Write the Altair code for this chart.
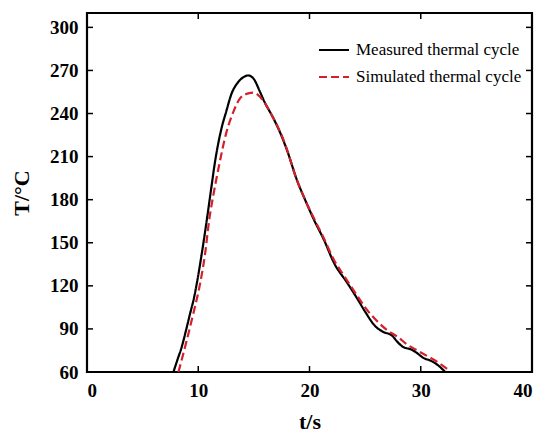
import altair as alt
import pandas as pd

meas_t = [7.77, 8.15, 8.52, 8.9, 9.27, 9.6, 9.87, 10.32, 10.77, 11.15, 11.5, 12.1, 12.5, 13.0, 13.5, 14.0,
          14.5, 15.0, 15.5, 15.9, 16.8, 17.4, 18.0, 18.9, 19.6, 20.4, 21.3, 22.2, 23.4, 24.3, 25.0,
          25.9, 26.6, 27.4, 27.9, 28.4, 29.2, 29.7, 30.2, 31.0, 31.5, 32.2]
meas_T = [60, 69, 77.6, 89, 100.8, 111, 121.7, 142.6, 166, 187, 206, 230, 241, 254, 261, 265,
          266.5, 264, 256, 249, 236, 226, 214, 193, 180, 166, 152, 136, 122, 111, 102,
          92, 88, 85.5, 81, 77.5, 75.5, 73, 70, 67.5, 65, 60]

sim_t = [8.22, 8.82, 9.56, 10.17, 10.62, 10.98, 11.4, 11.9, 12.5, 13.2, 13.8, 14.5, 15.0, 15.5,
         16.0, 16.8, 17.7, 18.9, 19.6, 20.4, 21.3, 22.2, 23.1, 24.3, 25.0, 26.0, 27.0, 27.9,
         28.8, 29.7, 30.6, 31.5, 32.4]
sim_T = [60, 77.6, 100.8, 121.7, 142.6, 165.7, 185, 205, 226, 242, 251, 254, 254.5, 252,
         247, 236, 221, 193, 180, 167, 153, 138, 127, 113, 105, 96, 89, 84.6,
         79, 75, 71, 67, 62]

series_names = ["Measured thermal cycle", "Simulated thermal cycle"]
x_tick_vals = [10, 20, 30]
y_tick_vals = [90, 120, 150, 180, 210, 240, 270, 300]

rows = [{"t": t, "T": v, "s": series_names[0]} for t, v in zip(meas_t, meas_T)]
rows += [{"t": t, "T": v, "s": series_names[1]} for t, v in zip(sim_t, sim_T)]
df = pd.DataFrame(rows)

W, H = 445, 359
TL = 6
xs = alt.Scale(domain=[0, 40], nice=False, zero=False)
ys = alt.Scale(domain=[60, 310], nice=False, zero=False)

leg = dict(title=None, orient="none", legendX=231, legendY=21,
           symbolType="stroke", symbolSize=900, symbolStrokeWidth=2,
           labelFont="Liberation Serif", labelFontSize=17, labelColor="black",
           labelLimit=0, rowPadding=3, labelOffset=6)

lines = alt.Chart(df).mark_line(interpolate="monotone", strokeWidth=2.2).encode(
    x=alt.X("t:Q", scale=xs, title="t/s",
            axis=alt.Axis(values=[0, 10, 20, 30, 40], tickSize=0, domain=False, grid=False,
                          labelPadding=9, titlePadding=11)),
    y=alt.Y("T:Q", scale=ys, title="T/°C",
            axis=alt.Axis(values=[60, 90, 120, 150, 180, 210, 240, 270, 300], tickSize=0,
                          domain=False, grid=False, labelPadding=9, titlePadding=16)),
    color=alt.Color("s:N", scale=alt.Scale(domain=series_names, range=["#000000", "#d3202b"]),
                    legend=alt.Legend(**leg)),
    strokeDash=alt.StrokeDash("s:N", scale=alt.Scale(domain=series_names, range=[[1, 0], [8, 4]]),
                              legend=alt.Legend(**leg)),
)

xt = pd.DataFrame({"v": x_tick_vals})
yt = pd.DataFrame({"v": y_tick_vals})

xticks_bot = alt.Chart(xt).mark_rule(color="black", strokeWidth=1.5).encode(
    x=alt.X("v:Q", scale=xs), y=alt.value(H), y2=alt.value(H - TL))
xticks_top = alt.Chart(xt).mark_rule(color="black", strokeWidth=1.5).encode(
    x=alt.X("v:Q", scale=xs), y=alt.value(0), y2=alt.value(TL))
yticks_l = alt.Chart(yt).mark_rule(color="black", strokeWidth=1.5).encode(
    y=alt.Y("v:Q", scale=ys), x=alt.value(0), x2=alt.value(TL))
yticks_r = alt.Chart(yt).mark_rule(color="black", strokeWidth=1.5).encode(
    y=alt.Y("v:Q", scale=ys), x=alt.value(W), x2=alt.value(W - TL))

chart = alt.layer(lines, xticks_bot, xticks_top, yticks_l, yticks_r).properties(
    width=W, height=H,
    autosize=alt.AutoSizeParams(type="none"),
    padding={"left": 79, "top": 5, "right": 6, "bottom": 60},
    background="white",
).configure_view(stroke="black", strokeWidth=2.2).configure_axis(
    labelFont="Liberation Serif", labelFontSize=19, labelFontWeight="bold", labelColor="black",
    titleFont="Liberation Serif", titleFontSize=22, titleFontWeight="bold", titleColor="black",
)

chart.save("out.html", embed_options={"renderer": "svg", "actions": False})
